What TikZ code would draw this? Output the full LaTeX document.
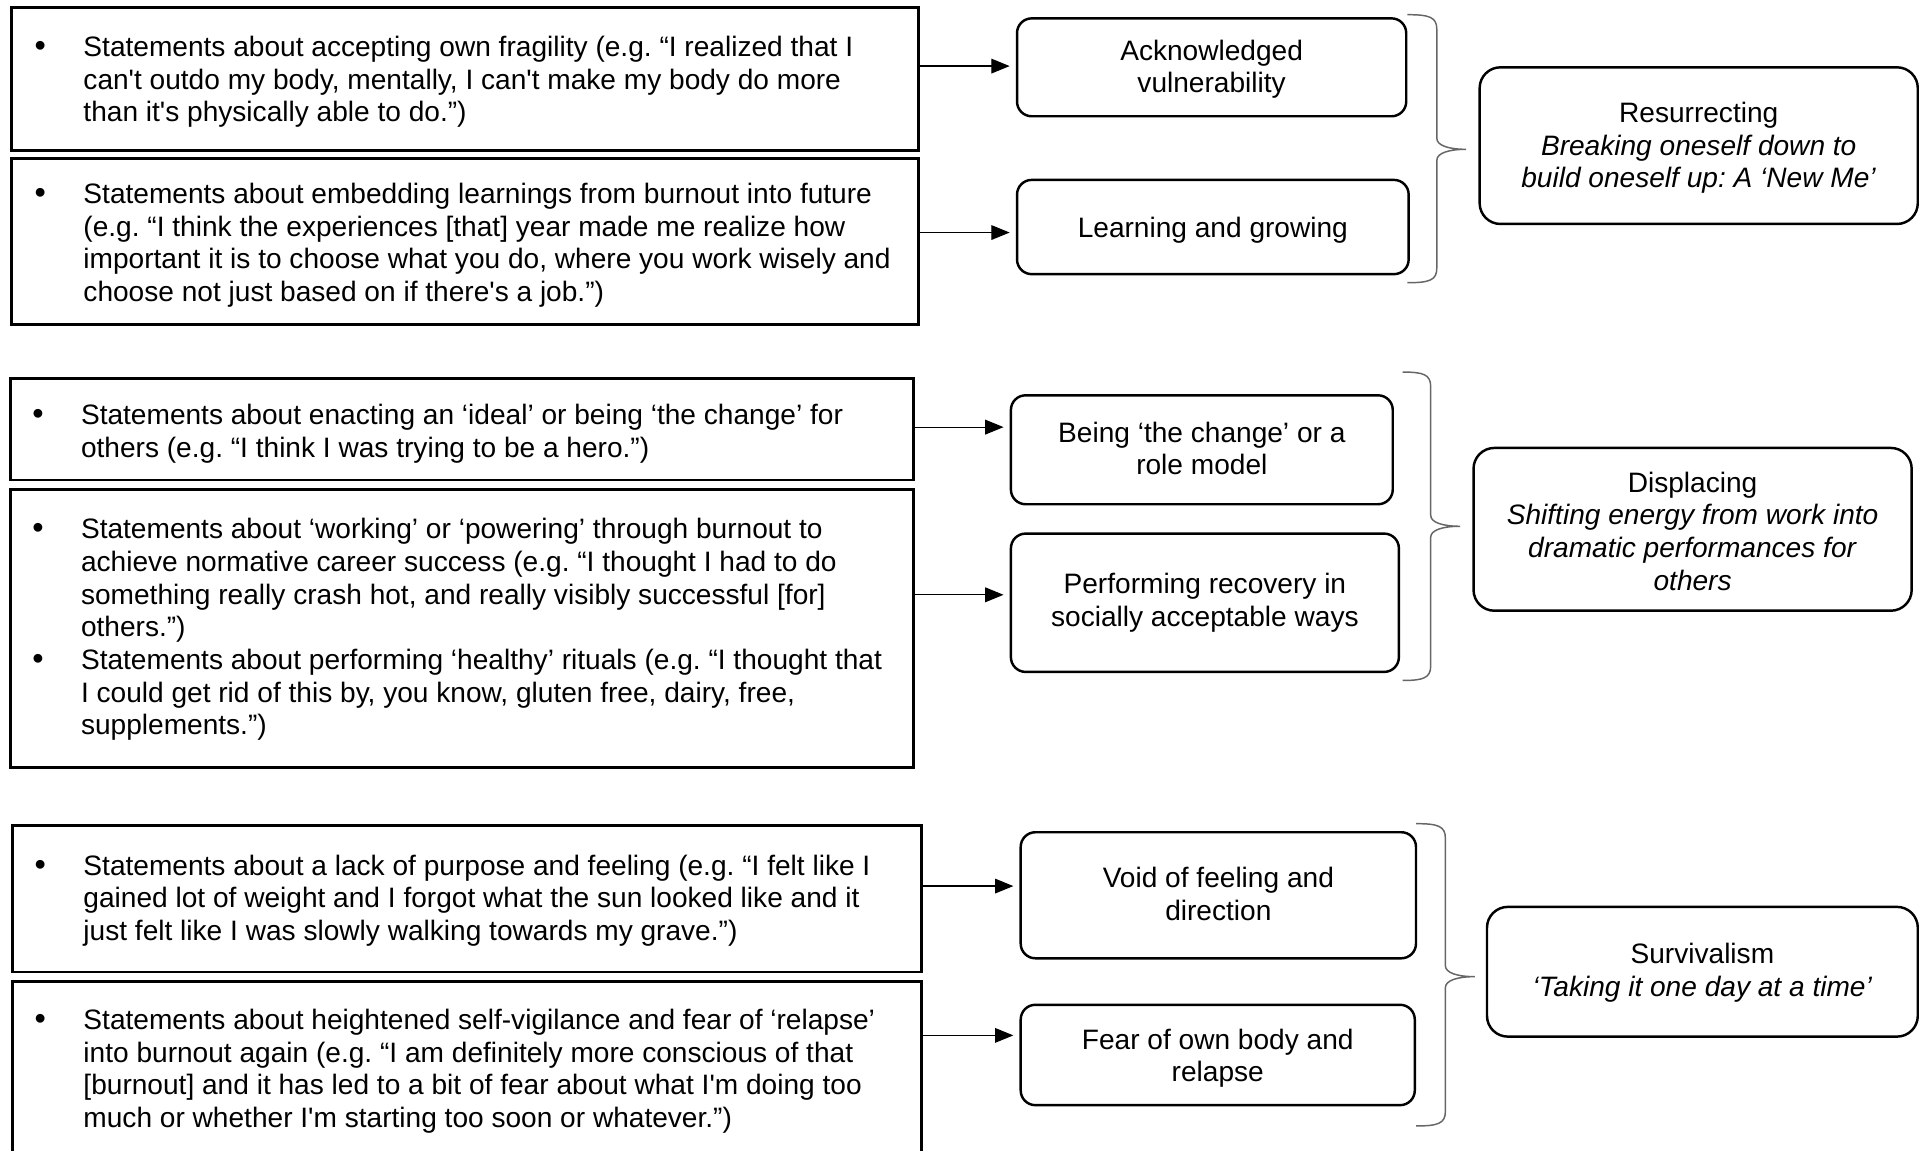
\documentclass[tikz,border=0pt]{standalone}
\usepackage{fontspec}
\newfontfamily\af{Liberation Sans}
\usetikzlibrary{arrows.meta}
\frenchspacing
\newcommand{\rbracepath}[6]{%
  \draw[bracestyle] (#1,#4) .. controls (#2-6,#4) and (#2,#4+2) .. (#2,#4+12)
    -- (#2,#5-9) .. controls (#2,#5-3) and (#2+10,#5) .. (#3,#5)
    .. controls (#2+10,#5) and (#2,#5+3) .. (#2,#5+9)
    -- (#2,#6-12) .. controls (#2,#6-2) and (#2-6,#6) .. (#1,#6);}
\begin{document}
\begin{tikzpicture}[x=1pt,y=-1pt,
  every node/.style={font=\af\fontsize{22.95}{26.7}\selectfont\frenchspacing},
  lbox/.style={draw, line width=2.4pt, inner sep=0pt, anchor=north west},
  ltxt/.style={align=left, inner sep=0pt, anchor=north west},
  ctxt/.style={align=center, inner sep=0pt, anchor=north},
  bul/.style={anchor=base, inner sep=0pt, scale=1.15},
  mbox/.style={draw, line width=2pt, rounded corners=12pt, inner sep=0pt, anchor=north west},
  rbox/.style={draw, line width=2pt, rounded corners=17pt, inner sep=0pt, anchor=north west},
  arr/.style={line width=1pt, -{Triangle[length=15pt,width=12pt]}, shorten >=5pt},
  bracestyle/.style={draw=black!60, line width=1.2pt}]
\useasboundingbox (0,0) rectangle (1568,940);
\clip (0,0) rectangle (1568,940);
\fill[white] (0,0) rectangle (1568,940);

% left boxes
\node[lbox, minimum width=741pt, minimum height=117pt] (L1) at (8,5) {};
\node[lbox, minimum width=741pt, minimum height=136pt] (L2) at (8,128) {};
\node[lbox, minimum width=738pt, minimum height=83pt]  (L3) at (7,308) {};
\node[lbox, minimum width=738pt, minimum height=227pt] (L4) at (7,399) {};
\node[lbox, minimum width=743pt, minimum height=120pt] (L5) at (9,673) {};
\node[lbox, minimum width=743pt, minimum height=170pt] (L6) at (9,801) {};

% left texts
\node[bul] (b1) at (33,46) {•};
\node[ltxt] (t1) at (68,27.3) {\strut Statements about accepting own fragility (e.g. “I realized that I\\can't outdo my body, mentally, I can't make my body do more\\than it's physically able to do.”)};
\node[bul] (b2) at (33,166) {•};
\node[ltxt] (t2) at (68,147.3) {\strut Statements about embedding learnings from burnout into future\\(e.g. “I think the experiences {[}that{]} year made me realize how\\important it is to choose what you do, where you work wisely and\\choose not just based on if there's a job.”)};
\node[bul] (b3) at (31,347) {•};
\node[ltxt] (t3) at (66,328.3) {\strut Statements about enacting an ‘ideal’ or being ‘the change’ for\\others (e.g. “I think I was trying to be a hero.”)};
\node[bul] (b4) at (31,440) {•};
\node[bul] (b5) at (31,546.8) {•};
\node[ltxt] (t4) at (66,421.3) {\strut Statements about ‘working’ or ‘powering’ through burnout to\\achieve normative career success (e.g. “I thought I had to do\\something really crash hot, and really visibly successful {[}for{]}\\others.”)\\Statements about performing ‘healthy’ rituals (e.g. “I thought that\\I could get rid of this by, you know, gluten free, dairy, free,\\supplements.”)};
\node[bul] (b6) at (33,715) {•};
\node[ltxt] (t5) at (68,696.3) {\strut Statements about a lack of purpose and feeling (e.g. “I felt like I\\gained lot of weight and I forgot what the sun looked like and it\\just felt like I was slowly walking towards my grave.”)};
\node[bul] (b7) at (33,841) {•};
\node[ltxt] (t6) at (68,822.3) {\strut Statements about heightened self-vigilance and fear of ‘relapse’\\into burnout again (e.g. “I am definitely more conscious of that\\{[}burnout{]} and it has led to a bit of fear about what I'm doing too\\much or whether I'm starting too soon or whatever.”)};

% middle boxes
\node[mbox, minimum width=318pt, minimum height=80pt] (M1) at (830,14) {};
\node[mbox, minimum width=320pt, minimum height=77pt] (M2) at (830,146) {};
\node[mbox, minimum width=312pt, minimum height=89pt] (M3) at (825,322) {};
\node[mbox, minimum width=317pt, minimum height=113pt] (M4) at (825,435) {};
\node[mbox, minimum width=323pt, minimum height=103pt] (M5) at (833,679) {};
\node[mbox, minimum width=322pt, minimum height=82pt] (M6) at (833,820) {};
\node[ctxt] (m1t) at (M1.north |- 0,30.3) {\strut Acknowledged\\vulnerability};
\node[ctxt] (m2t) at (M2.north |- 0,175.3) {\strut Learning and growing};
\node[ctxt] (m3t) at (M3.north |- 0,342.3) {\strut Being ‘the change’ or a\\role model};
\node[ctxt] (m4t) at (M4.north |- 0,466.3) {\strut Performing recovery in\\socially acceptable ways};
\node[ctxt] (m5t) at (M5.north |- 0,706.3) {\strut Void of feeling and\\direction};
\node[ctxt] (m6t) at (M6.north |- 0,838.3) {\strut Fear of own body and\\relapse};

% right boxes
\node[rbox, minimum width=358pt, minimum height=128pt] (R1) at (1208,54) {};
\node[rbox, minimum width=358pt, minimum height=133pt] (R2) at (1203,365) {};
\node[rbox, minimum width=352pt, minimum height=106pt] (R3) at (1214,740) {};
\node[ctxt] (r1t) at (R1.north |- 0,81.3) {\strut Resurrecting\\\textit{Breaking oneself down to}\\\textit{build oneself up: A ‘New Me’}};
\node[ctxt] (r2t) at (R2.north |- 0,383.3) {\strut Displacing\\\textit{Shifting energy from work into}\\\textit{dramatic performances for}\\\textit{others}};
\node[ctxt] (r3t) at (R3.north |- 0,768.3) {\strut Survivalism\\\textit{‘Taking it one day at a time’}};

% arrows
\draw[arr] (L1.east |- 0,54) -- (M1.west |- 0,54);
\draw[arr] (L2.east |- 0,190) -- (M2.west |- 0,190);
\draw[arr] (L3.east |- 0,349) -- (M3.west |- 0,349);
\draw[arr] (L4.east |- 0,486) -- (M4.west |- 0,486);
\draw[arr] (L5.east |- 0,724) -- (M5.west |- 0,724);
\draw[arr] (L6.east |- 0,846) -- (M6.west |- 0,846);

% braces
\rbracepath{1150}{1174}{1198}{12}{122}{231}
\rbracepath{1146}{1169}{1193}{304}{430}{556}
\rbracepath{1157}{1181}{1205}{673}{798}{920}
\end{tikzpicture}
\end{document}
